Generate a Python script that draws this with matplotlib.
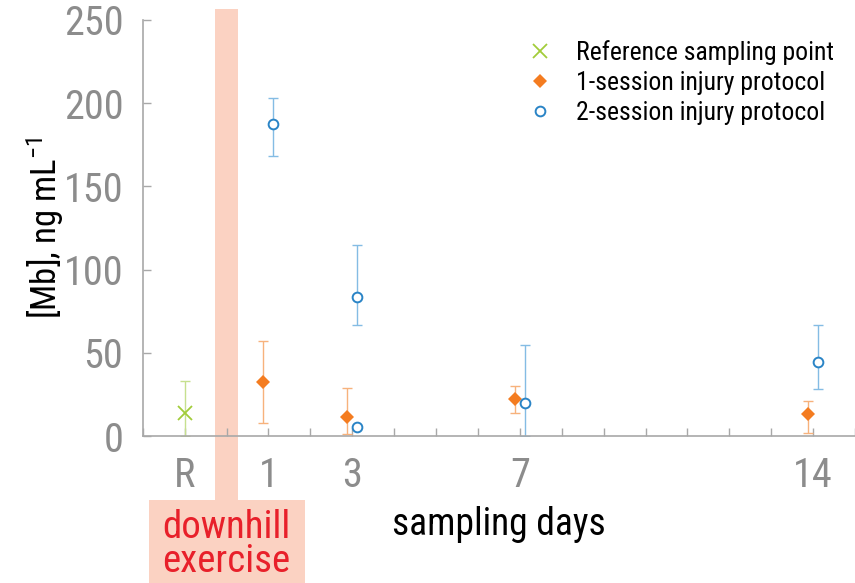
import matplotlib.pyplot as plt
from matplotlib.patches import Rectangle
import numpy as np

plt.rcParams['font.family'] = ['Roboto Condensed', 'Archivo Narrow', 'DejaVu Sans']
plt.rcParams['mathtext.fontset'] = 'custom'
plt.rcParams['mathtext.rm'] = 'Roboto Condensed'
plt.rcParams['mathtext.default'] = 'regular'

# sampling days (R = reference day, drawn at -1)
ref_day = [-1]
ref_val = [14]
ref_lo = [0]
ref_hi = [33]

one_days = [1, 3, 7, 14]
one_val = [32.5, 11.5, 22, 13.5]
one_lo = [8, 1, 14, 2]
one_hi = [57, 29, 30, 21]

two_days = [1, 3, 3, 7, 14]
two_val = [187.5, 83.5, 5.5, 20, 44.5]
two_lo = [168, 67, 5.5, 0, 28]
two_hi = [203, 115, 5.5, 55, 67]

tick_days = [-1, 1, 3, 7, 14]
tick_labels = ['R', '1', '3', '7', '14']

grey = '#8c8c8c'

fig = plt.figure(figsize=(8.55, 5.83), dpi=100)
ax = fig.add_axes([0.167, 0.252, 0.833, 0.714])


def draw(days, vals, lo, hi, shift, marker, ecolor, label, **kw):
    x = np.array(days) + shift
    v = np.array(vals)
    yerr = [v - np.array(lo), np.array(hi) - v]
    ax.errorbar(x, v, yerr=yerr, fmt='none', ecolor=ecolor, elinewidth=1,
                capsize=3.5, capthick=1, zorder=2)
    ax.plot(x, v, linestyle='none', marker=marker, label=label, zorder=3, **kw)


draw(ref_day, ref_val, ref_lo, ref_hi, 0, 'x', '#c6e08e',
     'Reference sampling point', color='#a2cc3a', markersize=10, mew=1.3)
draw(one_days, one_val, one_lo, one_hi, -0.12, 'D', '#f7b27c',
     '1-session injury protocol', color='#f47c20', markersize=7.5, mew=0)
draw(two_days, two_val, two_lo, two_hi, 0.12, 'o', '#84bce4',
     '2-session injury protocol', markerfacecolor='white',
     markeredgecolor='#2a84c6', markersize=7, mew=1.4)

# downhill exercise band and its label box
ax.add_patch(Rectangle((-0.27, -38.5), 0.54, 295, facecolor='#fbd2c2',
                       edgecolor='none', clip_on=False, zorder=0))
ax.add_patch(Rectangle((-1.86, -90), 3.74, 51.5, facecolor='#fbd2c2',
                       edgecolor='none', clip_on=False, zorder=0))
ax.text(0, -65, 'downhill\nexercise', color='#e8202a', fontsize=28,
        ha='center', va='center', linespacing=0.9)

ax.set_xlim(-2, 15)
ax.set_ylim(0, 250)
ax.set_xticks(range(-2, 16))
ax.set_xticklabels(['' if d not in tick_days else tick_labels[tick_days.index(d)]
                    for d in range(-2, 16)])
ax.set_yticks(range(0, 251, 50))

for side in ['top', 'right']:
    ax.spines[side].set_visible(False)
for side in ['left', 'bottom']:
    ax.spines[side].set_color('#a8a8a8')
    ax.spines[side].set_linewidth(1.2)

ax.tick_params(axis='both', direction='in', color='#a8a8a8', labelcolor=grey,
               labelsize=29, length=6, width=1)
ax.tick_params(axis='x', pad=14)
ax.tick_params(axis='y', pad=14)

ax.set_ylabel('[Mb], ng mL$^{-1}$', fontsize=25, labelpad=-2)
ax.set_xlabel('sampling days', fontsize=27, labelpad=8)

ax.legend(loc='upper right', frameon=False, fontsize=18.5, handletextpad=0.4,
          labelspacing=0.22, borderaxespad=0.4, bbox_to_anchor=(1.0, 1.0))

plt.savefig('out.png', dpi=100)
